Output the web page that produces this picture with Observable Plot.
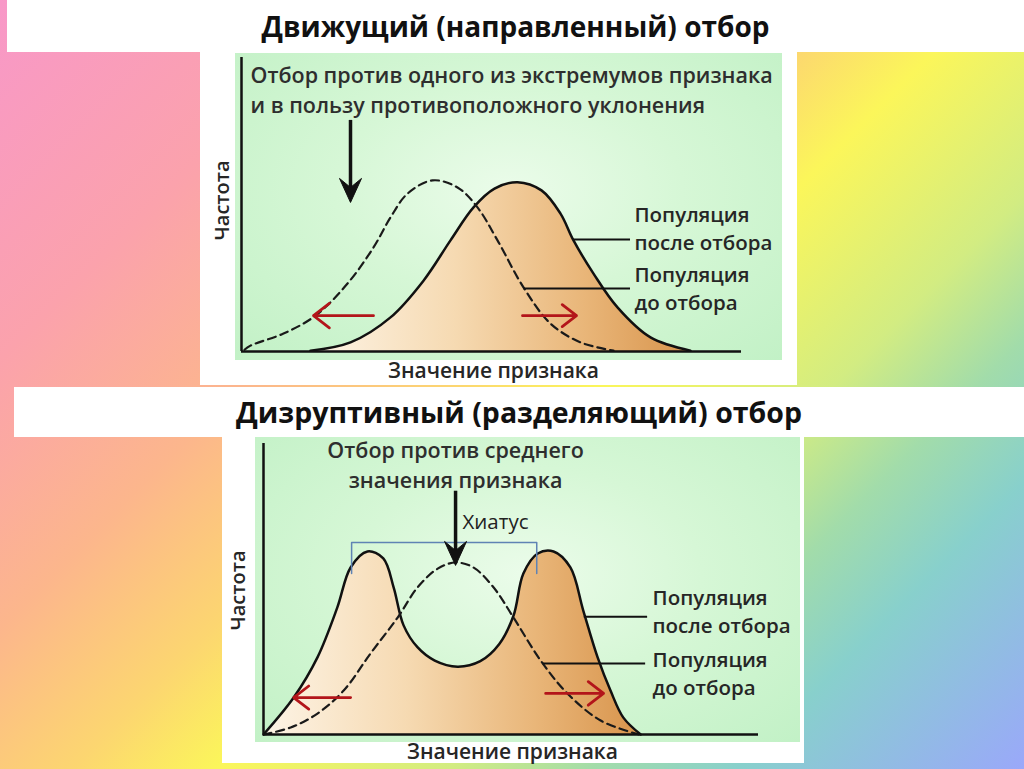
<!DOCTYPE html>
<html><head><meta charset="utf-8">
<script src="https://cdn.jsdelivr.net/npm/d3@7"></script>
<script src="https://cdn.jsdelivr.net/npm/@observablehq/plot@0.6"></script>
<style>
html,body{margin:0;padding:0;}
body{width:1024px;height:769px;position:relative;overflow:hidden;
 background:linear-gradient(135deg,#f898c8 0%,#fba2ac 20%,#fcb68c 35%,#fcd670 47%,#fbf65a 55%,#d2ec82 68%,#a2dcaa 76%,#88d0cc 84%,#9aa8fa 100%);
 font-family:"Open Sans",sans-serif;}
.box{position:absolute;background:#fff;}
.panel{position:absolute;background:radial-gradient(ellipse at 50% 45%,#ebfcea 0%,#d6f7d6 45%,#c2f1c6 100%);}
.title{position:absolute;text-align:center;font-family:"Open Sans",sans-serif;font-weight:700;color:#111;white-space:nowrap;}
.chart{position:absolute;}
</style></head>
<body>
<div class="box" style="left:7px;top:0;width:1017px;height:52px"></div>
<div class="title" id="t1" style="left:7px;top:6px;width:1017px;font-size:28px;line-height:40px"></div>
<div class="box" style="left:200px;top:52px;width:597px;height:333px"></div>
<div class="panel" style="left:235px;top:53px;width:547px;height:307px"></div>
<div class="chart" id="c1" style="left:200px;top:52px"></div>
<div class="box" style="left:14px;top:387px;width:1010px;height:50px"></div>
<div class="title" id="t2" style="left:14px;top:392px;width:1010px;font-size:28.5px;line-height:40px"></div>
<div class="box" style="left:222px;top:437px;width:582px;height:326px"></div>
<div class="panel" style="left:255px;top:437px;width:545px;height:305px"></div>
<div class="chart" id="c2" style="left:222px;top:437px"></div>
<script>
// ---- text ----
const titles = ["Движущий (направленный) отбор", "Дизруптивный (разделяющий) отбор"];
const axisYLabel = "Частота";
const axisXLabel = "Значение признака";
const topNote = ["Отбор против одного из экстремумов признака", "и в пользу противоположного уклонения"];
const bottomNote = ["Отбор против среднего", "значения признака"];
const hiatusLabel = "Хиатус";
const afterLabel = ["Популяция", "после отбора"];
const beforeLabel = ["Популяция", "до отбора"];

// ---- directional selection (top) ----
const topBeforeX = [0.6, 1.8, 8.4, 14.8, 21.2, 26.4, 29.8, 33.2, 38.2, 43.2, 47.2, 51.2, 56.4, 61.8, 67.8, 74.4];
const topBeforeY = [0.6, 2.0, 6.1, 12.2, 23.1, 35.4, 45.6, 53.7, 58.2, 55.8, 49.0, 37.8, 21.8, 9.5, 3.1, 0.3];
const topAfterX = [13.8, 21.8, 29.8, 36.4, 41.8, 46.4, 50.6, 55.2, 60.0, 63.8, 66.4, 70.4, 75.2, 81.8, 89.8];
const topAfterY = [0.3, 3.1, 11.6, 24.1, 37.8, 49.0, 55.4, 57.6, 54.8, 46.9, 37.8, 26.5, 15.0, 4.8, 0.3];

// ---- disruptive selection (bottom) ----
const botBeforeX = [0, 5.5, 10.9, 16.2, 21.6, 27.1, 31.1, 35.2, 38.8, 42.4, 46.5, 50.5, 56.0, 61.4, 68.1, 75.8];
const botBeforeY = [0, 2.4, 7.2, 15.1, 27.8, 40.2, 50.5, 57.0, 59.1, 57.4, 50.5, 40.2, 25.4, 14.1, 4.8, 0];
const botAfterX = [0, 6.1, 10.9, 14.9, 17.6, 21.0, 24.2, 26.3, 28.3, 31.1, 34.6, 39.2, 43.8, 47.6, 50.5, 52.5, 55.4, 58.6, 62.0, 64.6, 67.5, 70.1, 72.7, 76.2];
const botAfterY = [0, 12.7, 26.5, 43.6, 57.4, 62.9, 60.5, 50.5, 37.5, 30.0, 25.4, 23.3, 25.2, 31.0, 40.8, 55.3, 62.2, 62.9, 57.4, 42.6, 26.5, 15.1, 5.8, 0];

// hiatus bracket (bottom): two peak positions, tick bottom and bracket top
const hiatusX = [17.8, 55.2];
const hiatusY = [55.3, 66.0];

const toPts = (xs, ys) => xs.map((x, i) => ({x, y: ys[i]}));

function gradientMark(id, stops) {
  return () => {
    const g = d3.create("svg:defs");
    const lg = g.append("linearGradient").attr("id", id).attr("x1", 0).attr("x2", 1).attr("y1", 0).attr("y2", 0);
    stops.forEach(([o, c]) => lg.append("stop").attr("offset", o).attr("stop-color", c));
    return g.node();
  };
}
const fillStops = [[0, "#fdf4e6"], [0.38, "#f6dab2"], [0.72, "#e9b679"], [1, "#d8944c"]];

// filled arrowhead (tip at the anchor point, pointing down)
const arrowHead = {
  draw(ctx) {
    ctx.moveTo(0, 0);
    ctx.lineTo(-11, -24);
    ctx.lineTo(0, -15);
    ctx.lineTo(11, -24);
    ctx.closePath();
  }
};

const textStyle = {fill: "#262626", fontWeight: 600, fontFamily: "Open Sans"};

function chart(o) {
  const before = toPts(o.bx, o.by);
  const after = toPts(o.ax, o.ay);
  return Plot.plot({
    width: o.width, height: o.height,
    marginLeft: o.ml, marginRight: o.mr, marginTop: o.mt, marginBottom: o.mb,
    x: {domain: [0, 100], axis: null},
    y: {domain: [0, 100], axis: null},
    style: {background: "transparent", overflow: "visible"},
    marks: [
      gradientMark(o.gid, fillStops),
      Plot.areaY(after, {x: "x", y: "y", fill: `url(#${o.gid})`, curve: "catmull-rom"}),
      Plot.line(after, {x: "x", y: "y", stroke: "#111", strokeWidth: 2.5, curve: "catmull-rom"}),
      Plot.line(before, {x: "x", y: "y", stroke: "#1a1a1a", strokeWidth: 2.2, strokeDasharray: "8,5", curve: "catmull-rom"}),
      Plot.ruleX([0], {y1: 0, y2: 100, stroke: "#111", strokeWidth: 2.5}),
      Plot.ruleY([0], {x1: 0, x2: 100, stroke: "#111", strokeWidth: 2.5}),
      ...o.extra,
      // leader lines
      Plot.ruleY([o.lead[0].y], {x1: o.lead[0].x1, x2: o.lead[0].x2, stroke: "#111", strokeWidth: 2}),
      Plot.ruleY([o.lead[1].y], {x1: o.lead[1].x1, x2: o.lead[1].x2, stroke: "#111", strokeWidth: 2}),
      // red arrows
      Plot.arrow(o.red, {x1: "x1", y1: "y", x2: "x2", y2: "y", stroke: "#b3151a", strokeWidth: 2.8, headLength: 11, headAngle: 75}),
      // black arrow
      Plot.ruleX([o.black.x], {y1: o.black.y1, y2: o.black.y2 + 4, stroke: "#111", strokeWidth: 3.5}),
      Plot.dot([o.black], {x: "x", y: "y2", symbol: arrowHead, fill: "#111", stroke: "#111", strokeWidth: 1}),
      Plot.text([axisYLabel], {x: o.yl[0], y: o.yl[1], rotate: -90, fontSize: 20, ...textStyle}),
      Plot.text([axisXLabel], {x: o.xl[0], y: o.xl[1], fontSize: 21, ...textStyle}),
      Plot.text([afterLabel.join("\n"), beforeLabel.join("\n")], {x: o.lab.x, y: (d, i) => o.lab.ys[i], textAnchor: "start", lineHeight: 1.37, fontSize: 20.5, ...textStyle}),
      Plot.text([o.note.join("\n")], {x: o.noteAt.x, y: o.noteAt.y, textAnchor: o.noteAt.anchor, lineHeight: 1.4, fontSize: 21.5, ...textStyle, fill: "#2e2e2e"})
    ]
  });
}

document.getElementById("t1").textContent = titles[0];
document.getElementById("t2").textContent = titles[1];

document.getElementById("c1").append(chart({
  width: 597, height: 333, ml: 41, mr: 56, mt: 5, mb: 34, gid: "fillTop",
  bx: topBeforeX, by: topBeforeY, ax: topAfterX, ay: topAfterY,
  extra: [],
  lead: [{y: 38.1, x1: 66.4, x2: 77.8}, {y: 21.4, x1: 56.5, x2: 77.8}],
  red: [{x1: 26.4, x2: 14.4, y: 12.2}, {x1: 56.2, x2: 67.0, y: 12.2}],
  black: {x: 21.8, y1: 78.6, y2: 50.7},
  yl: [-3.8, 51.4], xl: [50.4, -6.8],
  lab: {x: 78.6, ys: [42.5, 21.8]},
  note: topNote, noteAt: {x: 1.8, y: 89.5, anchor: "start"}
}));

document.getElementById("c2").append(chart({
  width: 582, height: 326, ml: 41, mr: 46, mt: 6, mb: 29, gid: "fillBot",
  bx: botBeforeX, by: botBeforeY, ax: botAfterX, ay: botAfterY,
  extra: [
    Plot.line([{x: hiatusX[0], y: hiatusY[0]}, {x: hiatusX[0], y: hiatusY[1]}, {x: hiatusX[1], y: hiatusY[1]}, {x: hiatusX[1], y: hiatusY[0]}],
      {x: "x", y: "y", stroke: "#5f83b4", strokeWidth: 1.5}),
    Plot.text([hiatusLabel], {x: 40.2, y: 72.9, textAnchor: "start", fontSize: 20.5, fill: "#222", fontFamily: "Open Sans"})
  ],
  lead: [{y: 40.5, x1: 64.8, x2: 77.6}, {y: 24.4, x1: 56.5, x2: 77.2}],
  red: [{x1: 17.6, x2: 6.1, y: 12.7}, {x1: 57.0, x2: 68.7, y: 14.1}],
  black: {x: 38.8, y1: 83.6, y2: 58.1},
  yl: [-5.1, 49.5], xl: [50.3, -6.2],
  lab: {x: 78.6, ys: [42.8, 21.5]},
  note: bottomNote, noteAt: {x: 38.8, y: 93.1, anchor: "middle"}
}));
</script>
</body></html>
